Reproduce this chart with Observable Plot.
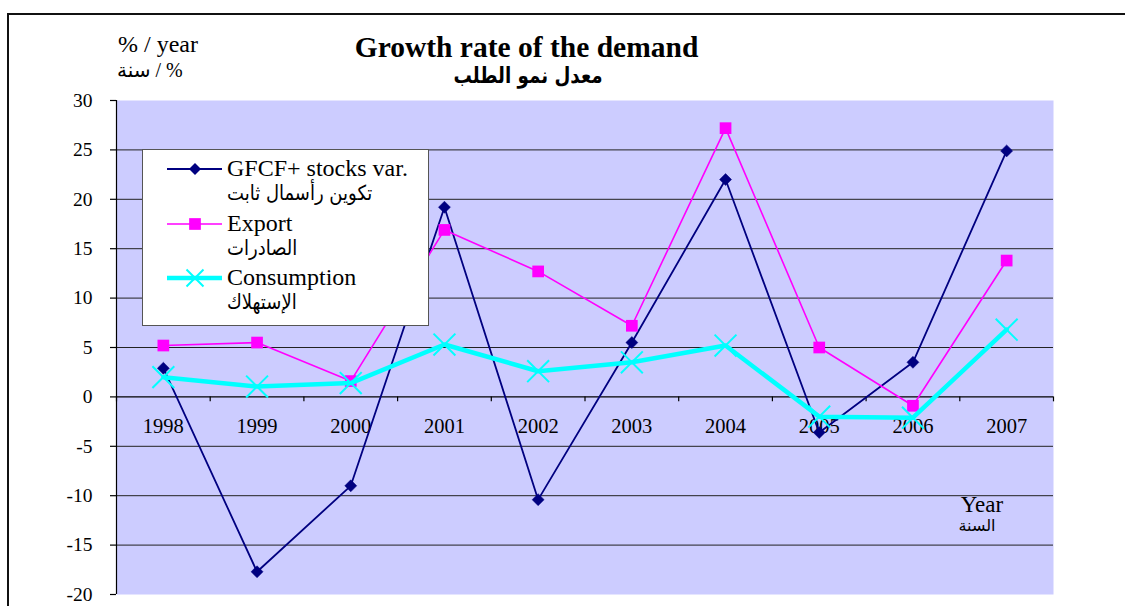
<!DOCTYPE html>
<html><head><meta charset="utf-8">
<script src="https://cdn.jsdelivr.net/npm/d3@7"></script>
<script src="https://cdn.jsdelivr.net/npm/@observablehq/plot@0.6"></script>
<style>
body{margin:0;background:#fff;}
#wrap{position:relative;width:1125px;height:606px;overflow:hidden;font-family:"Liberation Serif","DejaVu Sans",serif;color:#000;}
.abs{position:absolute;white-space:nowrap;line-height:1;}
#frame{position:absolute;left:7px;top:13px;width:1200px;height:700px;border:2px solid #111;box-sizing:border-box;}
#legend{position:absolute;left:142px;top:149px;width:287px;height:177px;border:1px solid #555;background:#fff;box-sizing:border-box;}
svg.plot{position:absolute;left:0;top:0;}
</style></head><body><div id="wrap"><div id="frame"></div></div>
<script>
// ---- data ----
const years = [1998, 1999, 2000, 2001, 2002, 2003, 2004, 2005, 2006, 2007];
const gfcf = [2.9, -17.7, -9.0, 19.2, -10.4, 5.5, 22.0, -3.6, 3.5, 24.9];
const exportGrowth = [5.2, 5.5, 1.6, 16.9, 12.7, 7.2, 27.2, 5.0, -0.9, 13.8];
const consumption = [2.0, 1.05, 1.4, 5.3, 2.6, 3.5, 5.2, -2.0, -2.1, 6.8];
const yTicks = [-20, -15, -10, -5, 0, 5, 10, 15, 20, 25, 30];
const gridValues = [-15, -10, -5, 5, 10, 15, 20, 25];
const seriesNamesEn = ["GFCF+ stocks var.", "Export", "Consumption"];
const seriesNamesAr = ["تكوين رأسمال ثابت", "الصادرات", "الإستهلاك"];
const titleEn = "Growth rate of the demand";
const titleAr = "معدل نمو الطلب";
const unitEn = "% / year";
const unitAr = "% / سنة";
const xLabelEn = "Year";
const xLabelAr = "السنة";

const colors = ["#000080", "#FF00FF", "#00FFFF"];
const rows = (vals) => years.map((year, i) => ({year, value: vals[i]}));
const boundaries = [years[0] - 0.5, ...years.map(y => y + 0.5)];

const plot = Plot.plot({
  width: 1125, height: 606,
  marginLeft: 116, marginRight: 72, marginTop: 100, marginBottom: 12,
  x: {type: "linear", domain: [years[0] - 0.5, years[years.length - 1] + 0.5], axis: null},
  y: {domain: [-20, 30], axis: null},
  style: {fontFamily: "Liberation Serif, DejaVu Sans, serif", fontSize: "19px", background: "transparent", overflow: "visible"},
  marks: [
    Plot.frame({fill: "#CCCCFF", stroke: null}),
    Plot.ruleY(gridValues, {stroke: "#222", strokeWidth: 1}),
    Plot.ruleY([0], {stroke: "#000", strokeWidth: 1.2}),
    Plot.ruleX(boundaries, {y1: 0, y2: -0.5, stroke: "#000", strokeWidth: 1.2}),
    Plot.ruleX([years[0] - 0.5], {stroke: "#000", strokeWidth: 1.2}),
    Plot.axisY({ticks: yTicks, tickSize: 6, tickPadding: 18, tickFormat: d => String(d), fontSize: 19.5, stroke: "#000", strokeWidth: 1.2, label: null, fill: "#000"}),
    Plot.text(years, {x: d => d, y: 0, dy: 30, text: d => String(d), fontSize: 20.5, fill: "#000"}),
    // GFCF
    Plot.line(rows(gfcf), {x: "year", y: "value", stroke: colors[0], strokeWidth: 1.8}),
    Plot.dot(rows(gfcf), {x: "year", y: "value", symbol: "diamond2", fill: colors[0], stroke: colors[0], strokeWidth: 0.5, r: 5.4}),
    // Export
    Plot.line(rows(exportGrowth), {x: "year", y: "value", stroke: colors[1], strokeWidth: 1.6}),
    Plot.dot(rows(exportGrowth), {x: "year", y: "value", symbol: "square", fill: colors[1], r: 6.6}),
    // Consumption
    Plot.line(rows(consumption), {x: "year", y: "value", stroke: colors[2], strokeWidth: 4.5}),
    Plot.dot(rows(consumption), {x: "year", y: "value", symbol: "times", stroke: colors[2], strokeWidth: 2, r: 10})
  ]
});
const wrap = document.getElementById("wrap");
wrap.appendChild(plot);

function addText(txt, css) {
  const d = document.createElement("div");
  d.className = "abs";
  d.textContent = txt;
  Object.assign(d.style, css);
  wrap.appendChild(d);
  return d;
}
// titles
addText(titleEn, {left: "0px", width: "1053px", textAlign: "center", top: "33px", fontSize: "29.5px", fontWeight: "bold"});
addText(titleAr, {left: "0px", width: "1056px", textAlign: "center", top: "67px", fontSize: "18.3px", fontWeight: "bold", fontFamily: "DejaVu Sans", transform: "scaleY(1.2)"});
// units
addText(unitEn, {left: "118px", top: "32px", fontSize: "24px"});
addText(unitAr, {left: "117px", top: "60px", fontSize: "20px", direction: "rtl", fontFamily: "Liberation Serif, DejaVu Sans"});
// x label
addText(xLabelEn, {left: "932px", width: "100px", textAlign: "center", top: "493px", fontSize: "23px"});
addText(xLabelAr, {left: "927px", width: "100px", textAlign: "center", top: "518px", fontSize: "16px", fontFamily: "DejaVu Sans"});

// legend
const legend = document.createElement("div");
legend.id = "legend";
wrap.appendChild(legend);
const ns = "http://www.w3.org/2000/svg";
const symbolTypes = [d3.symbolDiamond2, d3.symbolSquare, d3.symbolTimes];
const symbolSizes = [92, 137, 190];
const lineWidths = [1.8, 1.6, 4.5];
seriesNamesEn.forEach((name, i) => {
  const cy = 168 + i * 54.5 - 149;
  const svg = document.createElementNS(ns, "svg");
  svg.setAttribute("width", 60); svg.setAttribute("height", 30);
  svg.style.position = "absolute"; svg.style.left = "22px"; svg.style.top = (cy - 15) + "px";
  const ln = document.createElementNS(ns, "line");
  ln.setAttribute("x1", 2); ln.setAttribute("x2", 57); ln.setAttribute("y1", 15); ln.setAttribute("y2", 15);
  ln.setAttribute("stroke", colors[i]); ln.setAttribute("stroke-width", lineWidths[i]);
  svg.appendChild(ln);
  const p = document.createElementNS(ns, "path");
  p.setAttribute("d", d3.symbol(symbolTypes[i], symbolSizes[i])());
  p.setAttribute("transform", "translate(30,15)");
  if (i === 2) { p.setAttribute("fill", "none"); p.setAttribute("stroke", colors[i]); p.setAttribute("stroke-width", 2); }
  else p.setAttribute("fill", colors[i]);
  svg.appendChild(p);
  legend.appendChild(svg);
  const t = document.createElement("div");
  t.className = "abs"; t.textContent = name;
  Object.assign(t.style, {left: "84px", top: (cy - 13) + "px", fontSize: "24px"});
  legend.appendChild(t);
  const a = document.createElement("div");
  a.className = "abs"; a.textContent = seriesNamesAr[i];
  Object.assign(a.style, {left: "84px", top: (cy + 14) + "px", fontSize: "18px", fontFamily: "DejaVu Sans", transform: "scaleY(1.15)", transformOrigin: "left top"});
  legend.appendChild(a);
});
</script></body></html>
